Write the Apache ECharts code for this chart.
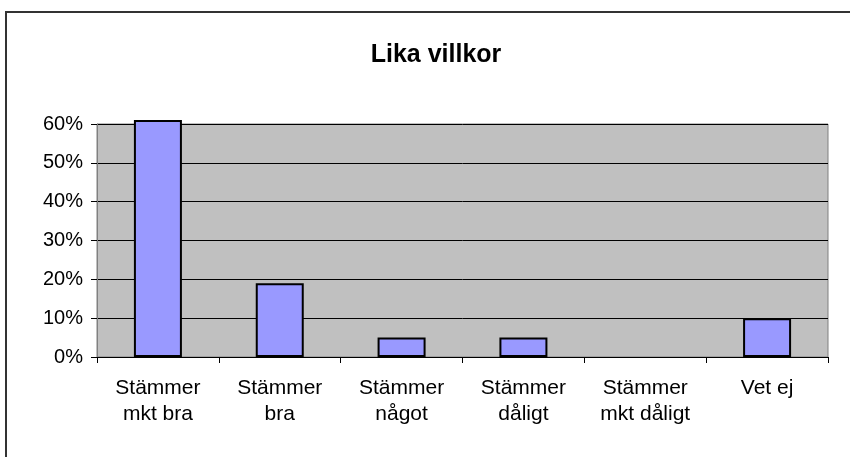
<!DOCTYPE html>
<html>
<head>
<meta charset="utf-8">
<script src="https://cdn.jsdelivr.net/npm/echarts@6/dist/echarts.min.js"></script>
<style>
  html, body { margin: 0; padding: 0; background: #fff; }
  #chart { width: 850px; height: 457px; }
</style>
</head>
<body>
<div id="chart"></div>
<script>
const categories = ['Stämmer\nmkt bra', 'Stämmer\nbra', 'Stämmer\nnågot', 'Stämmer\ndåligt', 'Stämmer\nmkt dåligt', 'Vet ej']
const values = [61, 19, 5, 5, 0, 10]
const titleText = 'Lika villkor'

const chart = echarts.init(document.getElementById('chart'))
chart.setOption({
  animation: false,
  backgroundColor: '#fff',
  textStyle: { fontFamily: 'Liberation Sans, Arial, sans-serif' },
  title: {
    text: titleText,
    left: 431,
    top: 38,
    textAlign: 'center',
    textStyle: { fontSize: 25, fontWeight: 'bold', color: '#000', fontFamily: 'Liberation Sans, Arial, sans-serif' }
  },
  graphic: [{
    type: 'rect',
    shape: { x: 6, y: 12, width: 900, height: 500 },
    style: { fill: 'none', stroke: '#333', lineWidth: 2 },
    silent: true
  }],
  grid: {
    left: 97,
    right: 22,
    top: 124,
    bottom: 100,
    show: true,
    backgroundColor: '#c0c0c0',
    borderColor: '#808080',
    borderWidth: 1
  },
  xAxis: {
    type: 'category',
    data: categories,
    axisLine: { lineStyle: { color: '#000', width: 1 } },
    axisTick: { show: true, length: 6, lineStyle: { color: '#000' } },
    axisLabel: { color: '#000', fontSize: 21, lineHeight: 26, margin: 18, interval: 0 }
  },
  yAxis: {
    type: 'value',
    min: 0,
    max: 60,
    interval: 10,
    axisLine: { show: true, lineStyle: { color: '#808080' } },
    axisTick: { show: true, length: 6, lineStyle: { color: '#000' } },
    axisLabel: { color: '#000', fontSize: 20, margin: 14, formatter: '{value}%' },
    splitLine: { lineStyle: { color: '#000', width: 1 } }
  },
  series: [{
    type: 'bar',
    // a zero bar has no outline in the original
    data: values.map(v => v === 0 ? { value: v, itemStyle: { borderWidth: 0 } } : v),
    barWidth: 48,
    clip: false,
    itemStyle: { color: '#9999ff', borderColor: '#000', borderWidth: 2 }
  }]
})
</script>
</body>
</html>
